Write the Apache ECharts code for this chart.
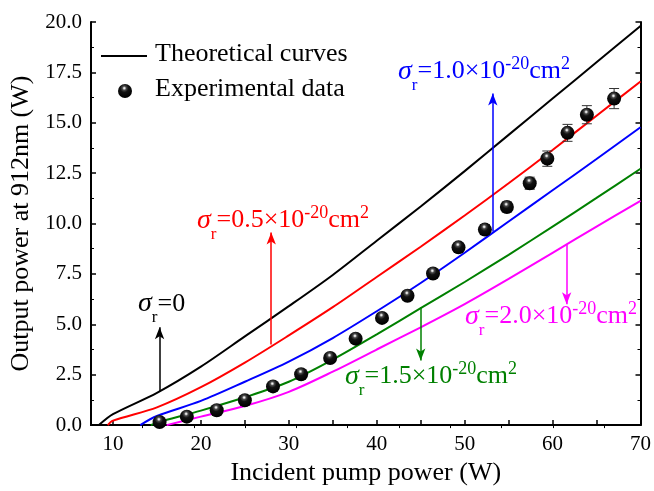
<!DOCTYPE html>
<html>
<head>
<meta charset="utf-8">
<script src="https://cdn.jsdelivr.net/npm/echarts@6/dist/echarts.min.js"></script>
<style>
html, body { margin: 0; padding: 0; background: #fff; }
#main { width: 654px; height: 491px; }
</style>
</head>
<body>
<div id="main"></div>
<script>
// theoretical curves, [pump power (W), output power (W)]
var curveS0 = [[8.4,0],[10,0.54],[15,1.6],[20,2.9],[25,4.4],[30,5.9],[35,7.45],[40,9.15],[45,10.85],[50,12.6],[55,14.4],[60,16.2],[65,18.0],[70,19.8]];
var curveS05 = [[9.4,0],[10,0.22],[15,0.88],[20,1.88],[25,3.1],[30,4.45],[35,5.85],[40,7.35],[45,8.85],[50,10.4],[55,12.0],[60,13.65],[65,15.35],[70,17.05]];
var curveS10 = [[13.1,0],[15,0.45],[20,1.2],[25,2.15],[30,3.15],[35,4.32],[40,5.65],[45,7.05],[50,8.55],[55,10.1],[60,11.65],[65,13.2],[70,14.78]];
var curveS15 = [[14.3,0],[15,0.12],[20,0.72],[25,1.38],[30,2.15],[35,3.25],[40,4.5],[45,5.8],[50,7.1],[55,8.45],[60,9.85],[65,11.27],[70,12.72]];
var curveS20 = [[16.1,0],[20,0.42],[25,0.95],[30,1.65],[35,2.65],[40,3.75],[45,4.85],[50,6.0],[55,7.25],[60,8.55],[65,9.85],[70,11.13]];

// experimental data
var expX = [15.3,18.4,21.8,25.0,28.2,31.4,34.7,37.6,40.6,43.5,46.4,49.3,52.3,54.8,57.4,59.4,61.7,63.9,67.0];
var expY = [0.15,0.42,0.74,1.23,1.92,2.52,3.33,4.29,5.32,6.42,7.52,8.82,9.7,10.82,12.0,13.22,14.5,15.4,16.2];
var expErr = [0.1,0.1,0.1,0.1,0.1,0.1,0.15,0.15,0.15,0.2,0.2,0.2,0.25,0.25,0.3,0.38,0.42,0.45,0.5];

// axis ticks
var xLabels = [10,20,30,40,50,60,70];
var xTicks = [10,15,20,25,30,35,40,45,50,55,60,65,70];
var topTicks = [13.3,19.2,25.0,30.8,36.7,42.6,48.4,54.2,60.1,65.9];

// arrows [x, from, to]
var arrowS0 = [15.3, 1.65, 4.85];
var arrowS05 = [28.0, 4.0, 9.55];
var arrowS10 = [53.2, 9.6, 16.45];
var arrowS15 = [45.0, 5.85, 3.2];
var arrowS20 = [61.6, 8.95, 6.0];

var FONT = 'Liberation Serif';

function arrow(a, color) {
    return {
        silent: true,
        animation: false,
        symbol: ['none', 'arrow'],
        symbolSize: [7, 12],
        label: { show: false },
        lineStyle: { color: color, width: 1.5, type: 'solid' },
        data: [[{ coord: [a[0], a[1]] }, { coord: [a[0], a[2]] }]]
    };
}

function curve(name, data, color, a) {
    return {
        name: name,
        type: 'line',
        data: data,
        symbol: 'none',
        smooth: 0.3,
        lineStyle: { color: color, width: 2 },
        z: 2,
        markLine: arrow(a, color)
    };
}

var richStyle = {
    s: { fontFamily: FONT, fontStyle: 'italic', fontSize: 28 },
    sub: { fontFamily: FONT, fontSize: 17, padding: [28, 0, 0, 0] },
    t: { fontFamily: FONT, fontSize: 26 },
    sup: { fontFamily: FONT, fontSize: 18, padding: [0, 0, 15, 0] }
};

function sigmaText(num, x, y, color) {
    var str = num === '0'
        ? '{s|σ}{sub|r}{t|=0}'
        : '{s|σ}{sub|r}{t|=' + num + '×10}{sup|-20}{t|cm}{sup|2}';
    return {
        type: 'text',
        left: x,
        top: y,
        z: 10,
        style: {
            text: str,
            fill: color,
            rich: richStyle,
            verticalAlign: 'middle'
        }
    };
}

var sphere = new echarts.graphic.RadialGradient(0.45, 0.3, 0.65, [
    { offset: 0, color: '#ffffff' },
    { offset: 0.08, color: '#d8d8d8' },
    { offset: 0.22, color: '#4a4a4a' },
    { offset: 0.45, color: '#111' },
    { offset: 1, color: '#000' }
]);

var option = {
    backgroundColor: '#fff',
    animation: false,
    textStyle: { fontFamily: FONT },
    grid: { left: 91, right: 12, top: 22, bottom: 63 },
    xAxis: [
        {
            type: 'value',
            min: 7.5,
            max: 70,
            name: 'Incident pump power (W)',
            nameLocation: 'middle',
            nameGap: 27,
            nameTextStyle: { fontFamily: FONT, fontSize: 26, color: '#000' },
            axisLine: { show: true, lineStyle: { color: '#000', width: 2 } },
            axisTick: { show: true, inside: true, length: 5, customValues: xTicks, lineStyle: { color: '#000', width: 1.5 } },
            axisLabel: { customValues: xLabels, fontFamily: FONT, fontSize: 21, color: '#000', margin: 9 },
            splitLine: { show: false }
        },
        {
            type: 'value',
            position: 'top',
            min: 7.5,
            max: 70,
            axisLine: { show: true, lineStyle: { color: '#000', width: 2 } },
            axisTick: { show: true, inside: true, length: 3, customValues: topTicks, lineStyle: { color: '#000', width: 1 } },
            axisLabel: { show: false },
            splitLine: { show: false }
        }
    ],
    yAxis: [
        {
            type: 'value',
            min: 0,
            max: 20,
            interval: 2.5,
            name: 'Output power at 912nm (W)',
            nameLocation: 'middle',
            nameGap: 48,
            nameTextStyle: { fontFamily: FONT, fontSize: 26, color: '#000' },
            axisLine: { show: true, lineStyle: { color: '#000', width: 2 } },
            axisTick: { show: true, inside: true, length: 5, lineStyle: { color: '#000', width: 1.5 } },
            minorTick: { show: true, splitNumber: 2, length: 3, lineStyle: { color: '#000', width: 1 } },
            axisLabel: {
                fontFamily: FONT, fontSize: 21, color: '#000', margin: 9,
                formatter: function (v) { return v.toFixed(1); }
            },
            splitLine: { show: false }
        },
        {
            type: 'value',
            position: 'right',
            min: 0,
            max: 20,
            interval: 2.5,
            axisLine: { show: true, lineStyle: { color: '#000', width: 2 } },
            axisTick: { show: true, inside: true, length: 5, lineStyle: { color: '#000', width: 1.5 } },
            minorTick: { show: true, splitNumber: 2, length: 3, lineStyle: { color: '#000', width: 1 } },
            axisLabel: { show: false },
            splitLine: { show: false }
        }
    ],
    series: [
        curve('σr=0', curveS0, '#000000', arrowS0),
        curve('σr=0.5', curveS05, '#ff0000', arrowS05),
        curve('σr=1.0', curveS10, '#0000ff', arrowS10),
        curve('σr=1.5', curveS15, '#008000', arrowS15),
        curve('σr=2.0', curveS20, '#ff00ff', arrowS20),
        {
            name: 'error',
            type: 'custom',
            z: 3,
            data: expX.map(function (x, i) { return [x, expY[i] - expErr[i], expY[i] + expErr[i]]; }),
            encode: { x: 0, y: [1, 2] },
            renderItem: function (params, api) {
                var lo = api.coord([api.value(0), api.value(1)]);
                var hi = api.coord([api.value(0), api.value(2)]);
                var w = 5;
                var st = { stroke: '#333', lineWidth: 1 };
                return {
                    type: 'group',
                    children: [
                        { type: 'line', shape: { x1: lo[0], y1: lo[1], x2: hi[0], y2: hi[1] }, style: st },
                        { type: 'line', shape: { x1: lo[0] - w, y1: lo[1], x2: lo[0] + w, y2: lo[1] }, style: st },
                        { type: 'line', shape: { x1: hi[0] - w, y1: hi[1], x2: hi[0] + w, y2: hi[1] }, style: st }
                    ]
                };
            }
        },
        {
            name: 'Experimental data',
            type: 'scatter',
            z: 4,
            symbol: 'circle',
            symbolSize: 14,
            itemStyle: { color: sphere, opacity: 1 },
            data: expX.map(function (x, i) { return [x, expY[i]]; })
        }
    ],
    graphic: [
        // legend
        { type: 'line', shape: { x1: 101, y1: 56, x2: 147, y2: 56 }, style: { stroke: '#000', lineWidth: 2 }, z: 10 },
        { type: 'text', left: 155, top: 41, z: 10, style: { text: 'Theoretical curves', fontFamily: FONT, fontSize: 26, fill: '#000' } },
        { type: 'circle', shape: { cx: 125, cy: 91, r: 7 }, style: { fill: sphere }, z: 10 },
        { type: 'text', left: 155, top: 76, z: 10, style: { text: 'Experimental data', fontFamily: FONT, fontSize: 26, fill: '#000' } },
        // curve labels
        sigmaText('0', 138, 290, '#000000'),
        sigmaText('0.5', 197, 204, '#ff0000'),
        sigmaText('1.0', 398, 55, '#0000ff'),
        sigmaText('1.5', 345, 360, '#008000'),
        sigmaText('2.0', 465, 300, '#ff00ff')
    ]
};

var myChart = echarts.init(document.getElementById('main'));
myChart.setOption(option);
</script>
</body>
</html>
